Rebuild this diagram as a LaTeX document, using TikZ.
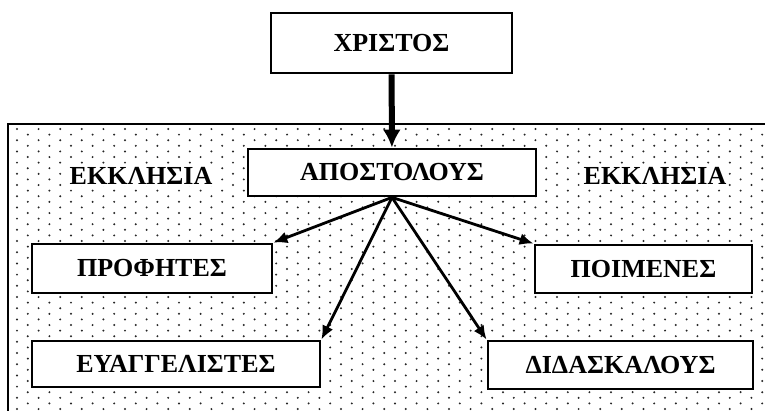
\documentclass[tikz,border=0pt]{standalone}
\usepackage{fontspec}
\setmainfont{Liberation Serif}[BoldFont={Liberation Serif Bold}]
\usepackage{tikz}
\usetikzlibrary{arrows.meta,positioning,calc}

\begin{document}
\begin{tikzpicture}[x=1pt, y=-1pt, >={Latex[length=14pt,width=12pt]}]
    \tikzstyle{box} = [rectangle, draw=black, line width=2.8pt, fill=white, font=\fontsize{26}{30}\selectfont\bfseries, text centered]
    \tikzstyle{churchlabel} = [fill=white, inner sep=1pt, font=\fontsize{26}{30}\selectfont\bfseries]
    \tikzstyle{arrow} = [line width=2.8pt, ->]
    \tikzstyle{dot} = [fill=black!85]

    \useasboundingbox (0,0) rectangle (765,410);

    % church panel with dots
    \draw[line width=2.4pt, fill=white] (8,124) rectangle (800,450);
    \begin{scope}
        \clip (9,125) rectangle (765,410);
        \foreach \j in {0,...,25} {
            \foreach \i in {0,...,35} {
                \fill[dot] (17+21.6*\i, 129+11.2*\j) circle (1.1);
                \fill[dot] (27.8+21.6*\i, 134.6+11.2*\j) circle (1.1);
            }
        }
    \end{scope}

    \node (christ) [box, minimum width=241, minimum height=60] at (391.5,43) {ΧΡΙΣΤΟΣ};
    \node (apost) [box, minimum width=288, minimum height=47] at (392,172.5) {ΑΠΟΣΤΟΛΟΥΣ};
    \node (eccl1) [churchlabel] at (141,176) {ΕΚΚΛΗΣΙΑ};
    \node (eccl2) [churchlabel] at (655,176) {ΕΚΚΛΗΣΙΑ};
    \node (proph) [box, minimum width=240, minimum height=49] at (152,268.5) {ΠΡΟΦΗΤΕΣ};
    \node (shep) [box, minimum width=217, minimum height=48] at (643.5,269) {ΠΟΙΜΕΝΕΣ};
    \node (evang) [box, minimum width=288, minimum height=46] at (176,364) {ΕΥΑΓΓΕΛΙΣΤΕΣ};
    \node (teach) [box, minimum width=265, minimum height=48] at (620.5,365) {ΔΙΔΑΣΚΑΛΟΥΣ};

    \draw [line width=6pt, -{Latex[length=18pt,width=18pt]}] (christ) -- (apost);
    \draw [arrow] (apost.south) -- (proph.north east);
    \draw [arrow] (apost.south) -- (shep.north west);
    \draw [arrow] (apost.south) -- (evang.north east);
    \draw [arrow] (apost.south) -- (teach.north west);
\end{tikzpicture}
\end{document}
